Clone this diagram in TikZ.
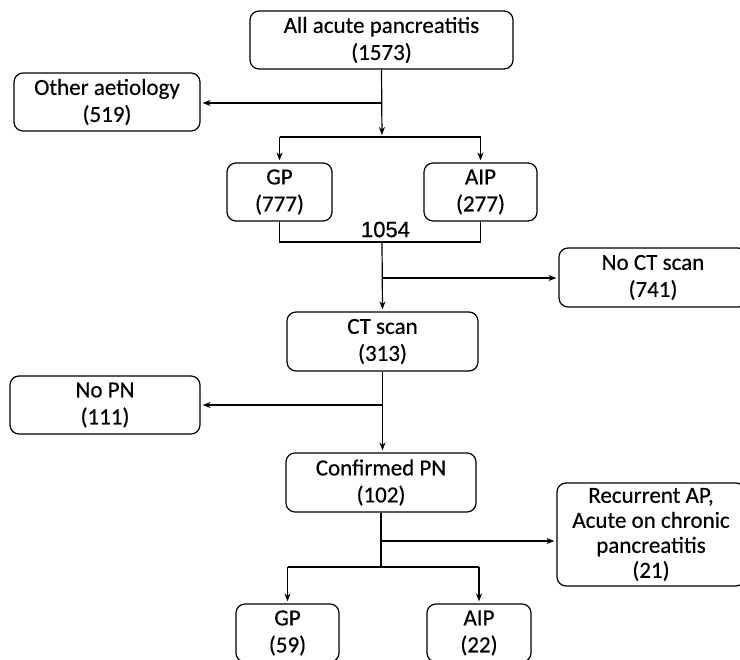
\documentclass[tikz,border=0pt]{standalone}
\usepackage{fontspec}
\setmainfont{Carlito}[FakeBold=0.4]
\newfontfamily\totalfont{Liberation Sans}[FakeBold=0.6]
\usetikzlibrary{arrows.meta}
\tikzset{
  box/.style={draw, line width=1.2pt, rounded corners=9pt, align=center, inner sep=0pt,
    font=\fontsize{23}{27}\selectfont, execute at begin node={\rule{0pt}{24pt}}},
  arr/.style={-{Stealth[length=8pt,width=6pt]}, line width=1.2pt, shorten >=2pt},
}
\newcommand{\drawline}{\draw[line width=1.2pt]}
\newcommand{\drawarrow}{\draw[arr]}

\begin{document}
\begin{tikzpicture}[x=1pt,y=-1pt]
\useasboundingbox[fill=white] (0,0) rectangle (740,660);
% boxes
\node[box, minimum width=263, minimum height=58] (all) at (381.5,40) {All acute pancreatitis\\(1573)};
\node[box, minimum width=186, minimum height=58] (other) at (107,102) {Other aetiology\\(519)};
\node[box, minimum width=105, minimum height=58] (gp1) at (279.5,192) {GP\\(777)};
\node[box, minimum width=113, minimum height=58] (aip1) at (480.5,192) {AIP\\(277)};
\node[box, minimum width=188, minimum height=59] (noct) at (653,277.5) {No CT scan\\(741)};
\node[box, minimum width=191, minimum height=59] (ct) at (382.5,341.5) {CT scan\\(313)};
\node[box, minimum width=190, minimum height=58] (nopn) at (105,405) {No PN\\(111)};
\node[box, minimum width=190, minimum height=59] (pn) at (381,482.5) {Confirmed PN\\(102)};
\node[box, minimum width=188, minimum height=103, font=\fontsize{23}{25}\selectfont] (recur) at (651,534.5) {Recurrent AP,\\Acute on chronic\\pancreatitis\\(21)};
\node[box, minimum width=103, minimum height=58] (gp2) at (287.5,633) {GP\\(59)};
\node[box, minimum width=104, minimum height=58] (aip2) at (479,633) {AIP\\(22)};
\node[font=\totalfont\fontsize{22}{25}\selectfont] (total) at (385.5,229.5) {1054};
% split points
\coordinate (split1) at (382,137);
\coordinate (side1) at (382,103);
\coordinate (join1) at (382,242);
\coordinate (side2) at (382,278);
\coordinate (side3) at (382,405);
\coordinate (side4) at (380,541);
\coordinate (split2) at (381,567);
% connectors
\drawarrow (all.south) -- (split1);
\drawarrow (side1) -- (side1 -| other.east);
\drawline (split1 -| gp1) -- (split1 -| aip1);
\drawarrow (split1 -| gp1) -- (gp1.north);
\drawarrow (split1 -| aip1) -- (aip1.north);
\drawline (gp1.south) |- (aip1.south |- join1) -- (aip1.south);
\drawarrow (join1) -- (ct.north);
\drawarrow (side2) -- (side2 -| noct.west);
\drawarrow (ct.south) -- (ct.south |- pn.north);
\drawarrow (side3) -- (side3 -| nopn.east);
\drawline (pn.south) -- (split2);
\drawarrow (side4) -- (side4 -| recur.west);
\drawline (split2 -| gp2) -- (split2 -| aip2);
\drawarrow (split2 -| gp2) -- (gp2.north);
\drawarrow (split2 -| aip2) -- (aip2.north);
\end{tikzpicture}
\end{document}
